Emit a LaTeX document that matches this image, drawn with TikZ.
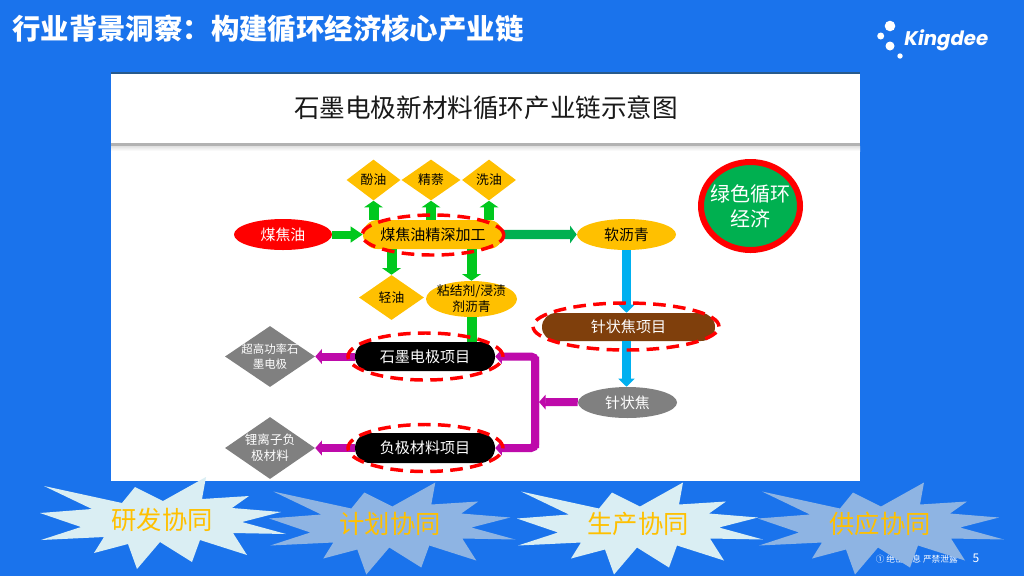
\documentclass[tikz,border=0pt]{standalone}
\usepackage{fontspec}
\setmainfont{Noto Sans CJK SC}
\newfontfamily\logofont{Poppins}
\usepackage{xcolor}
\usetikzlibrary{arrows.meta, shapes.geometric, shapes.misc}
\definecolor{slideblue}{RGB}{26, 115, 236}
\definecolor{headline}{RGB}{40, 90, 140}
\definecolor{oilyellow}{RGB}{255, 192, 0}
\definecolor{brightgreen}{RGB}{0, 200, 30}
\definecolor{seagreen}{RGB}{0, 176, 80}
\definecolor{skyblue}{RGB}{0, 176, 240}
\definecolor{plum}{RGB}{190, 10, 170}
\definecolor{cokebrown}{RGB}{127, 63, 12}
\definecolor{burstlight}{RGB}{218, 238, 243}
\definecolor{burstmid}{RGB}{142, 180, 227}

\begin{document}
\begin{tikzpicture}[
        x=0.75pt, y=-0.75pt,
        every node/.style={inner sep=0pt, align=center},
        boxsize/.style 2 args={minimum width=#1*0.75pt, minimum height=#2*0.75pt},
        oval/.style={ellipse, fill=oilyellow, text=black, font=\fontsize{11.2}{14}\selectfont},
        pill/.style={rounded rectangle, fill=black, text=white, font=\fontsize{11.3}{14}\selectfont},
        smalldiamond/.style={diamond, fill=oilyellow, text=black, font=\fontsize{9.6}{12}\selectfont},
        greydiamond/.style={diamond, fill=black!50, text=white, inner sep=-10pt, font=\fontsize{8.6}{11.3}\selectfont},
        ring/.style={ellipse, draw=red, line width=2.6pt, dash pattern=on 9.5pt off 5.5pt},
        greenarrow/.style={-{Triangle[width=14pt, length=5pt]}, line width=7.5pt, draw=brightgreen},
        inarrow/.style={-{Triangle[width=11.5pt, length=9pt]}, line width=6pt, draw=brightgreen},
        seaarrow/.style={-{Triangle[width=13pt, length=5pt]}, line width=6.8pt, draw=seagreen},
        bluearrow/.style={-{Triangle[width=12pt, length=6pt]}, line width=7pt, draw=skyblue},
        plumarrow/.style={-{Triangle[width=11pt, length=5pt]}, line width=6pt, draw=plum, rounded corners=3pt},
        synergy/.style={text=oilyellow, font=\fontsize{19}{22}\selectfont},
        burst/.pic={
            \fill[#1] (44,486) -- (122,503) -- (135,487) -- (163,501) -- (206,477) -- (202,499) -- (249,496) -- (232,508)
                -- (281,512) -- (242,522) -- (286,534) -- (233,533) -- (247,555) -- (200,540) -- (192,562) -- (160,542)
                -- (137,569) -- (128,544) -- (94,553) -- (104,537) -- (41,540) -- (81,527) -- (40,513) -- (92,509) -- cycle;
        }
    ]
        % slide
        \fill[slideblue] (0,0) rectangle (1024,576);
        \node[anchor=west, text=white, font=\fontsize{21.3}{24}\selectfont\bfseries] (slidetitle) at (12,29) {行业背景洞察：构建循环经济核心产业链};
        \fill[white] (890,26) circle (5.3*0.75pt);
        \fill[white] (880.7,36) circle (3.5*0.75pt);
        \fill[white] (890,46) circle (4.5*0.75pt);
        \fill[white] (900,56) circle (2.7*0.75pt);
        \node[anchor=west, text=white, font=\logofont\fontsize{14.8}{18}\selectfont\bfseries\itshape] (logo) at (904,40) {Kingdee};
        \node[anchor=east, text=white, font=\fontsize{6.5}{8}\selectfont] (secret) at (958,559) {① 绝密信息 严禁泄露};
        \node[text=white, font=\fontsize{9}{11}\selectfont] (pageno) at (976,558) {5};

        % card
        \fill[headline] (111,72) rectangle (860,75);
        \fill[white] (111,74) rectangle (860,481);
        \fill[black!30] (111,143) rectangle (860,146);
        \shade[top color=black!12, bottom color=white] (111,146) rectangle (860,151);
        \node[text=black!90, font=\fontsize{19.2}{22}\selectfont] (cardtitle) at (486,108) {石墨电极新材料循环产业链示意图};

        % nodes
        \node[oval, boxsize={98}{31}, fill=red, text=white] (coaltar) at (283,234.5) {煤焦油};
        \node[pill, boxsize={140}{29}, fill=oilyellow, text=black] (deep) at (433,234.5) {煤焦油精深加工};
        \node[smalldiamond, boxsize={54}{41}] (phenol) at (373.5,180) {酚油};
        \node[smalldiamond, boxsize={59}{41}] (naph) at (431,180) {精萘};
        \node[smalldiamond, boxsize={54}{41}] (wash) at (489,180) {洗油};
        \node[smalldiamond, boxsize={65}{45}] (light) at (391.5,297.5) {轻油};
        \node[oval, boxsize={91}{36}, inner sep=-4pt, font=\fontsize{9.6}{12}\selectfont] (binder) at (471.5,299) {粘结剂/浸渍\\剂沥青};
        \node[oval, boxsize={99}{31}] (pitch) at (626.5,234.5) {软沥青};
        \node[pill, boxsize={173}{28}, fill=cokebrown] (needlepj) at (628.5,327) {针状焦项目};
        \node[oval, boxsize={99}{31}, fill=black!50, text=white] (needle) at (627.5,402.5) {针状焦};
        \node[pill, boxsize={140}{29}] (graphite) at (425,356.5) {石墨电极项目};
        \node[pill, boxsize={140}{30}] (anode) at (425,448) {负极材料项目};
        \node[greydiamond, boxsize={90}{61}] (uhp) at (270,356.5) {超高功率石\\墨电极};
        \node[greydiamond, boxsize={90}{62}, font=\fontsize{9.4}{12}\selectfont] (liion) at (270,448) {锂离子负\\极材料};
        \node[ellipse, draw=red, line width=4.5pt, fill=seagreen, text=white, boxsize={99}{88}, inner sep=-5pt, font=\fontsize{15}{19}\selectfont] (green) at (750.5,206) {绿色循环\\经济};
        \coordinate (trunk) at (535,402);

        % arrows
        \draw[inarrow] (coaltar) -- (deep);
        \draw[greenarrow] (deep.north -| phenol.south) -- (phenol.south);
        \draw[greenarrow] (deep.north -| naph.south) -- (naph.south);
        \draw[greenarrow] (deep.north -| wash.south) -- (wash.south);
        \draw[greenarrow] (deep.south -| light.north) -- (light.north);
        \draw[greenarrow] (deep.south -| binder.north) -- (binder.north);
        \draw[greenarrow, -] (binder.south) -- (graphite.north -| binder.south);
        \draw[seaarrow] (deep) -- (pitch);
        \draw[bluearrow] (pitch.south) -- (pitch.south |- needlepj.north);
        \draw[bluearrow] (needlepj.south -| pitch.south) -- (pitch.south |- needle.north);
        \draw[plumarrow] (graphite) -- (uhp);
        \draw[plumarrow] (anode) -- (liion);
        \draw[plumarrow] (trunk |- anode) -- (trunk |- graphite) -- (graphite);
        \draw[plumarrow] (trunk |- graphite) -- (trunk |- anode) -- (anode);
        \draw[plumarrow] (needle) -- ([xshift=3pt]trunk);

        % dashed rings
        \node[ring, boxsize={142}{40}] (deepring) at (433,235) {};
        \node[ring, boxsize={155}{47}] (graphitering) at (425.5,356.5) {};
        \node[ring, boxsize={155}{47}] (anodering) at (425.5,448) {};
        \node[ring, boxsize={186}{47}] (needlering) at (626,326.5) {};

        % bursts
        \pic {burst=burstlight};
        \pic[shift={(229.3,5.5)}] {burst=burstmid};
        \pic[shift={(477,5.5)}] {burst=burstlight};
        \pic[shift={(718,5.5)}] {burst=burstmid};
        \node[synergy] (research) at (162,520) {研发协同};
        \node[synergy] (plan) at (390,524) {计划协同};
        \node[synergy] (produce) at (638,524) {生产协同};
        \node[synergy] (supply) at (880,524) {供应协同};
    \end{tikzpicture}
\end{document}
